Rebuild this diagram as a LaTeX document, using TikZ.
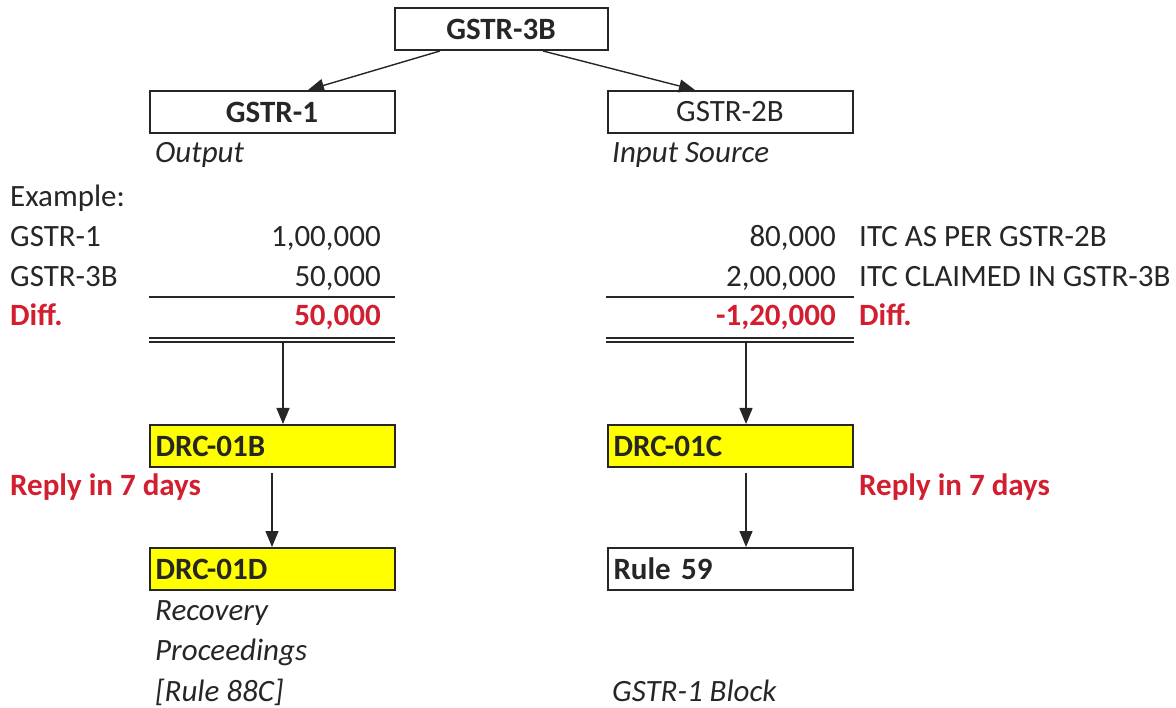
\documentclass[tikz,border=0pt]{standalone}
\usepackage{fontspec}
\setmainfont{Carlito}
\usetikzlibrary{arrows.meta,positioning}

\definecolor{inkgray}{HTML}{262626}
\definecolor{diffred}{HTML}{D21F30}
\definecolor{drcyellow}{HTML}{FFFF00}

\begin{document}
\fontsize{31}{37}\selectfont
\begin{tikzpicture}[x=1pt,y=-1pt,text=inkgray,
  box/.style={draw=inkgray, line width=2pt, inner xsep=6pt, inner ysep=0pt,
              text width=233pt, minimum height=42pt, align=center},
  drc/.style={box, fill=drcyellow, align=left, font=\bfseries},
  lbl/.style={anchor=base west, inner sep=0pt},
  num/.style={anchor=base east, inner sep=0pt},
  note/.style={lbl, font=\itshape},
  diff/.style={text=diffred, font=\bfseries},
  rule/.style={draw=inkgray, line width=1.6pt},
  flow/.style={draw=inkgray, line width=1.4pt, -{Triangle[length=16pt,width=13pt]}}]

\useasboundingbox (0,0) rectangle (1176,708);

% boxes
\node[box, text width=201pt, font=\bfseries] (g3b) at (501,29)  {GSTR-3B};
\node[box, font=\bfseries]                   (g1)  at (272,112) {GSTR-1};
\node[box]                                   (g2b) at (730,112) {GSTR-2B};
\node[drc]                  (drcb) at (272,446) {DRC-01B};
\node[drc]                  (drcc) at (730,446) {DRC-01C};
\node[drc]                  (drcd) at (272,569) {DRC-01D};
\node[box, align=left, font=\bfseries] (r59) at (730,569) {Rule 59};

% notes under boxes
\node[note] (out)  at (155,163) {Output};
\node[note] (inp)  at (612,163) {Input Source};
\node[note] (rec1) at (155,620) {Recovery};
\node[note] (rec2) at (155,660) {Proceedings};
\node[note] (rec3) at (155,701) {[Rule 88C]};
\node[note] (blk)  at (612,701) {GSTR-1 Block};

% example table
\node[lbl] (ex)  at (10,207) {Example:};
\node[lbl] (lr1) at (10,247) {GSTR-1};
\node[lbl] (lr2) at (10,287) {GSTR-3B};
\node[lbl, diff] (lr3) at (10,326) {Diff.};
\node[num] (lv1) at (381,247) {1,00,000};
\node[num] (lv2) at (381,287) {50,000};
\node[num, diff] (lv3) at (381,326) {50,000};

\node[num] (rv1) at (836,247) {80,000};
\node[num] (rv2) at (836,287) {2,00,000};
\node[num, diff] (rv3) at (836,326) {-1,20,000};
\node[lbl] (rl1) at (859,247) {ITC AS PER GSTR-2B};
\node[lbl] (rl2) at (859,287) {ITC CLAIMED IN GSTR-3B};
\node[lbl, diff] (rl3) at (859,326) {Diff.};

\node[lbl, diff] (rpl) at (10,496)  {Reply in 7 days};
\node[lbl, diff] (rpr) at (859,496) {Reply in 7 days};

% totals lines
\coordinate (ls1) at (149,297);  \coordinate (ls2) at (395,297);
\coordinate (rs1) at (606,297);  \coordinate (rs2) at (854,297);
\coordinate (ld1) at (149,340);  \coordinate (ld2) at (395,340);
\coordinate (rd1) at (606,340);  \coordinate (rd2) at (854,340);
\coordinate (la)  at (283,342);  \coordinate (ra)  at (746,342);

\path[rule] (ls1) -- (ls2);
\path[rule] (rs1) -- (rs2);
\path[rule, double, double distance=2.6pt, line width=1.3pt] (ld1) -- (ld2);
\path[rule, double, double distance=2.6pt, line width=1.3pt] (rd1) -- (rd2);

% arrows
\path[flow] ([xshift=-61pt]g3b.south) -- ([xshift=36pt]g1.north);
\path[flow] ([xshift=42pt]g3b.south) -- ([xshift=-35pt]g2b.north);
\path[flow] (la) -- (la |- drcb.north);
\path[flow] (ra) -- (ra |- drcc.north);
\path[flow, shorten <=5pt] (drcb.south) -- (drcd.north);
\path[flow, shorten <=5pt] ([xshift=16pt]drcc.south) -- ([xshift=16pt]r59.north);

\end{tikzpicture}
\end{document}
